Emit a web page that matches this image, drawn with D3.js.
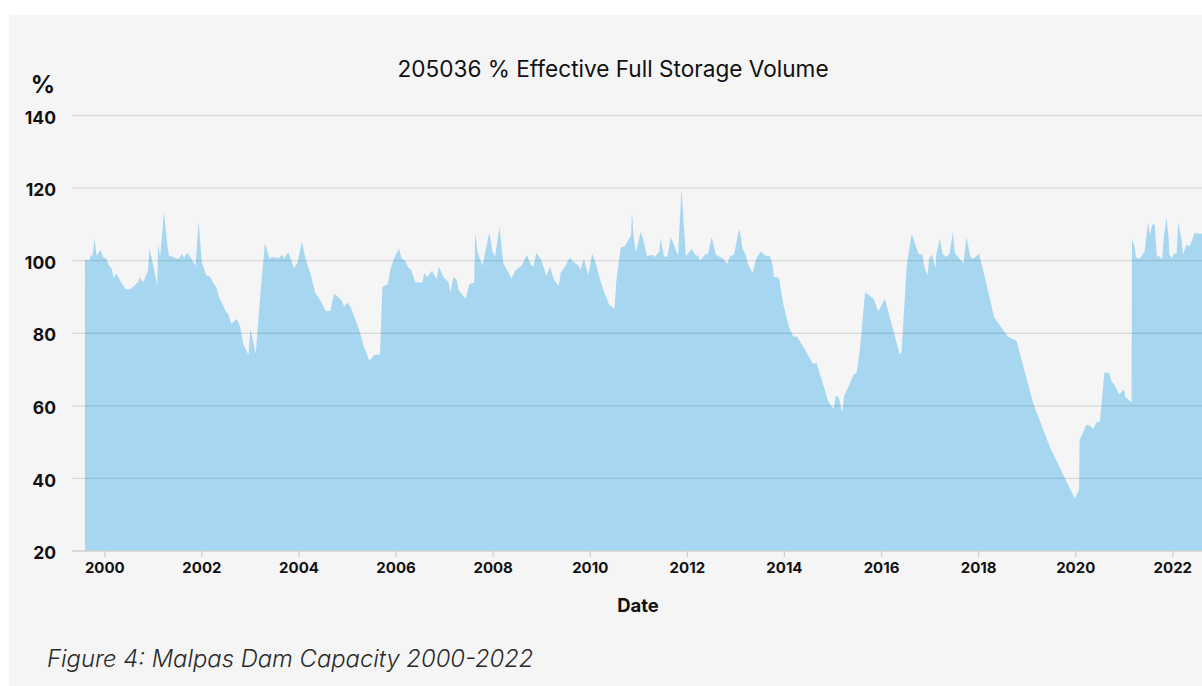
<!DOCTYPE html>
<html>
<head>
<meta charset="utf-8">
<script src="https://cdn.jsdelivr.net/npm/d3@7"></script>
<style>
  html, body { margin: 0; padding: 0; background: #ffffff; }
  svg { display: block; font-family: Inter, "Noto Sans", sans-serif; }
</style>
</head>
<body>
<svg id="chart" width="1202" height="686"></svg>
<script>
// decimal years
const years = [
  1999.60, 1999.69, 1999.72, 1999.75, 1999.80, 1999.84, 1999.93, 1999.97,
  2000.04, 2000.10, 2000.15, 2000.19, 2000.25, 2000.34, 2000.44, 2000.54, 2000.63, 2000.70, 2000.72, 2000.80, 2000.90, 2000.93,
  2001.01, 2001.09, 2001.11, 2001.15, 2001.23, 2001.30, 2001.33, 2001.42, 2001.49, 2001.54, 2001.60, 2001.64, 2001.70, 2001.77, 2001.88, 2001.94,
  2002.01, 2002.10, 2002.18, 2002.24, 2002.31, 2002.37, 2002.44, 2002.50, 2002.55, 2002.62, 2002.73, 2002.80, 2002.86, 2002.97,
  2003.01, 2003.12, 2003.21, 2003.31, 2003.40, 2003.48, 2003.59, 2003.67, 2003.70, 2003.79, 2003.91, 2003.98,
  2004.07, 2004.15, 2004.24, 2004.35, 2004.46, 2004.57, 2004.66, 2004.73, 2004.80, 2004.89, 2004.94,
  2005.01, 2005.07, 2005.16, 2005.25, 2005.34, 2005.46, 2005.56, 2005.68, 2005.73, 2005.84, 2005.90, 2005.97,
  2006.07, 2006.13, 2006.20, 2006.26, 2006.32, 2006.41, 2006.55, 2006.59, 2006.65, 2006.75, 2006.85, 2006.89, 2006.98,
  2007.09, 2007.13, 2007.19, 2007.26, 2007.30, 2007.44, 2007.52, 2007.62, 2007.64, 2007.69, 2007.79, 2007.93,
  2008.00, 2008.05, 2008.14, 2008.22, 2008.39, 2008.46, 2008.61, 2008.70, 2008.80, 2008.84, 2008.90, 2008.99,
  2009.11, 2009.18, 2009.26, 2009.36, 2009.40, 2009.50, 2009.59, 2009.65, 2009.77, 2009.81, 2009.88, 2009.97,
  2010.05, 2010.13, 2010.21, 2010.29, 2010.40, 2010.51, 2010.55, 2010.64, 2010.72, 2010.85, 2010.87, 2010.90, 2010.95,
  2011.05, 2011.10, 2011.18, 2011.29, 2011.34, 2011.43, 2011.46, 2011.53, 2011.60, 2011.67, 2011.82, 2011.89, 2011.98,
  2012.10, 2012.17, 2012.24, 2012.27, 2012.37, 2012.44, 2012.51, 2012.60, 2012.75, 2012.83, 2012.89, 2012.97,
  2013.08, 2013.15, 2013.21, 2013.26, 2013.35, 2013.44, 2013.53, 2013.61, 2013.71, 2013.77, 2013.79, 2013.90, 2013.98,
  2014.10, 2014.19, 2014.27, 2014.43, 2014.60, 2014.67, 2014.91,
  2015.02, 2015.07, 2015.13, 2015.20, 2015.24, 2015.32, 2015.43, 2015.50, 2015.57, 2015.67, 2015.76, 2015.85, 2015.94,
  2016.08, 2016.38, 2016.42, 2016.53, 2016.63, 2016.77, 2016.85, 2016.90, 2016.96, 2016.99,
  2017.05, 2017.12, 2017.14, 2017.21, 2017.27, 2017.34, 2017.41, 2017.48, 2017.52, 2017.61, 2017.70, 2017.76, 2017.84, 2017.90,
  2018.02, 2018.18, 2018.33, 2018.61, 2018.79,
  2019.14, 2019.48, 2019.99,
  2020.08, 2020.09, 2020.15, 2020.23, 2020.29, 2020.37, 2020.44, 2020.51, 2020.60, 2020.70, 2020.75, 2020.82, 2020.90,
  2021.01, 2021.03, 2021.16, 2021.17, 2021.23, 2021.25, 2021.33, 2021.43, 2021.50, 2021.54, 2021.59, 2021.64, 2021.68, 2021.73, 2021.79, 2021.83, 2021.88, 2021.92, 2021.94, 2021.99,
  2022.03, 2022.09, 2022.12, 2022.19, 2022.22, 2022.29, 2022.36, 2022.46, 2022.57, 2022.62
];

// % effective full storage volume
const values = [
  100.3, 100.0, 101.6, 101.0, 106.0, 101.4, 103.0, 101.0,
  100.5, 98.6, 97.9, 95.2, 96.5, 94.2, 92.1, 92.1, 93.2, 94.1, 95.5, 94.0, 97.2, 103.3,
  98.6, 93.2, 104.7, 101.0, 113.5, 104.2, 101.4, 101.0, 100.5, 100.7, 101.9, 100.7, 102.1, 101.1, 98.6, 110.9,
  99.5, 96.0, 95.6, 94.0, 92.6, 89.8, 87.9, 86.0, 85.3, 82.6, 83.9, 81.7, 77.2, 74.0,
  81.1, 74.4, 90.2, 104.9, 100.7, 101.0, 100.7, 101.7, 100.5, 102.3, 97.9, 99.5,
  105.3, 100.3, 96.7, 91.0, 88.8, 86.0, 86.3, 90.9, 90.2, 89.0, 87.4,
  88.4, 87.2, 84.2, 80.9, 76.7, 72.4, 74.0, 74.2, 92.8, 93.5, 98.0, 100.7,
  103.3, 100.5, 100.0, 98.1, 97.5, 94.0, 94.0, 96.5, 95.5, 97.2, 94.9, 98.4, 95.6,
  94.1, 91.2, 95.6, 94.7, 91.9, 89.5, 93.5, 94.0, 107.6, 102.3, 98.6, 107.7,
  102.3, 101.2, 109.3, 99.3, 95.1, 97.2, 98.8, 101.6, 98.6, 98.4, 102.1, 100.5,
  95.8, 98.3, 94.9, 93.0, 96.6, 98.6, 100.9, 99.8, 98.6, 97.5, 100.5, 96.0,
  101.9, 99.1, 94.9, 91.6, 87.9, 86.7, 94.9, 103.6, 104.0, 107.0, 113.5, 107.0, 102.3,
  107.9, 105.9, 101.2, 101.6, 101.0, 102.5, 106.0, 101.2, 101.0, 106.5, 101.4, 119.8, 101.2,
  103.3, 101.6, 101.2, 100.0, 101.6, 101.9, 106.5, 101.6, 100.5, 99.1, 101.2, 101.6,
  108.8, 103.3, 101.6, 99.1, 96.6, 100.9, 102.5, 101.4, 101.2, 98.6, 95.6, 95.3, 88.4,
  81.9, 79.1, 79.1, 75.5, 71.5, 71.9, 61.4,
  59.1, 62.8, 62.3, 58.2, 62.8, 65.0, 68.5, 69.2, 76.0, 91.2, 90.4, 89.5, 86.0,
  89.5, 74.4, 74.4, 98.6, 107.4, 101.9, 101.6, 97.9, 96.0, 100.5,
  101.7, 97.9, 101.9, 106.0, 101.9, 101.0, 101.9, 107.9, 102.1, 100.7, 99.3, 106.5, 101.0, 100.5,
  101.9, 93.0, 84.4, 79.1, 77.9,
  60.5, 48.6, 34.5,
  36.8, 50.5, 52.3, 54.7, 54.7, 53.6, 55.5, 55.7, 69.1, 69.1, 66.8, 65.5, 63.2,
  64.5, 62.5, 60.9, 106.0, 103.4, 100.9, 100.5, 102.5, 110.5, 107.2, 110.0, 110.0, 101.2, 101.2, 100.3, 107.0, 111.8, 107.0, 101.6, 100.7,
  101.9, 101.9, 110.5, 106.0, 101.6, 104.4, 104.0, 107.7, 107.4, 107.4
];

const yTicks = [20, 40, 60, 80, 100, 120, 140];
const xTicks = [2000, 2002, 2004, 2006, 2008, 2010, 2012, 2014, 2016, 2018, 2020, 2022];

const titleText = "205036 % Effective Full Storage Volume";
const yUnit = "%";
const xTitle = "Date";
const caption = "Figure 4: Malpas Dam Capacity 2000-2022";

const width = 1202;
const height = 686;
const plotLeft = 72;

const data = years.map((yr, i) => ({year: yr, value: values[i]}));

const svg = d3.select("#chart");

// light grey panel
svg.append("rect")
  .attr("x", 9).attr("y", 15)
  .attr("width", width - 9).attr("height", height - 15)
  .attr("fill", "#f5f5f5");

const x = d3.scaleLinear().domain([2000, 2022]).range([104.3, 1172.3]);
const y = d3.scaleLinear().domain([20, 140]).range([551, 115.5]);

// area
const area = d3.area()
  .x(d => x(d.year))
  .y0(y(20))
  .y1(d => y(d.value));

svg.append("path")
  .datum(data)
  .attr("fill", "#a7d7f0")
  .attr("d", area);

// gridlines on top (semi transparent so they darken over the area)
svg.append("g")
  .selectAll("line")
  .data(yTicks.filter(t => t > 20))
  .join("line")
  .attr("x1", plotLeft).attr("x2", width)
  .attr("y1", d => y(d)).attr("y2", d => y(d))
  .attr("stroke", "rgba(0,0,0,0.11)")
  .attr("stroke-width", 1.3);

// y axis labels
const yAxis = d3.axisLeft(y).tickValues(yTicks).tickSize(0).tickPadding(16);
const gy = svg.append("g")
  .attr("transform", `translate(${plotLeft},2)`)
  .call(yAxis);
gy.select(".domain").remove();
gy.selectAll("text")
  .attr("font-family", "Inter, sans-serif")
  .attr("font-size", 17.5)
  .attr("font-weight", 700)
  .attr("fill", "#111");

// x axis
const xAxis = d3.axisBottom(x).tickValues(xTicks).tickFormat(d => String(d)).tickSize(6).tickPadding(5);
const gx = svg.append("g")
  .attr("transform", `translate(0,${y(20)})`)
  .call(xAxis);
gx.select(".domain")
  .attr("d", `M${plotLeft},0H${width}`)
  .attr("stroke", "#d0d0d0")
  .attr("stroke-width", 1.3);
gx.selectAll(".tick line").attr("stroke", "#d0d0d0").attr("stroke-width", 1.3);
gx.selectAll("text")
  .attr("font-family", "Inter, sans-serif")
  .attr("font-size", 15)
  .attr("font-weight", 700)
  .attr("fill", "#111");

// unit label
svg.append("text")
  .attr("x", 55).attr("y", 93)
  .attr("text-anchor", "end")
  .attr("font-size", 24)
  .attr("font-weight", 700)
  .attr("fill", "#111")
  .text(yUnit);

// title
svg.append("text")
  .attr("x", 613).attr("y", 77)
  .attr("text-anchor", "middle")
  .attr("font-size", 22.6)
  .attr("fill", "#111")
  .text(titleText);

// x axis title
svg.append("text")
  .attr("x", 638).attr("y", 612)
  .attr("text-anchor", "middle")
  .attr("font-size", 18.5)
  .attr("font-weight", 700)
  .attr("fill", "#111")
  .text(xTitle);

// caption
svg.append("text")
  .attr("x", 47).attr("y", 667)
  .attr("font-size", 23.8)
  .attr("font-style", "italic")
  .attr("font-weight", 300)
  .attr("fill", "#2a2a2a")
  .text(caption);
</script>
</body>
</html>
